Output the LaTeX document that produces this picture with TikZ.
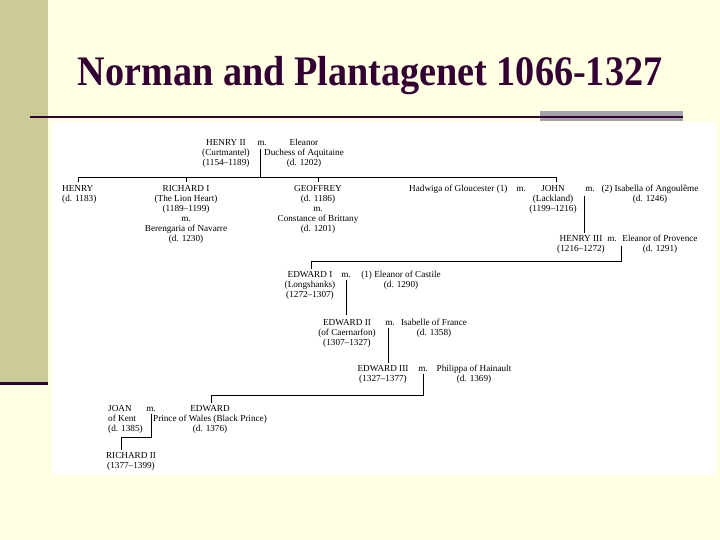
\documentclass[tikz,border=0pt]{standalone}
\usepackage{fontspec}
\setmainfont{Liberation Serif}
\definecolor{bgyel}{HTML}{FFFFE3}
\definecolor{strip}{HTML}{CCCC99}
\definecolor{ttl}{HTML}{330033}
\definecolor{barg}{HTML}{A3A3AB}
\begin{document}
\begin{tikzpicture}[x=1pt,y=-1pt,
  lbl/.style={font=\fontsize{9.2}{10}\selectfont, inner sep=0pt, align=center, anchor=north},
  lbll/.style={lbl, align=left, anchor=north west},
  mar/.style={lbl, execute at begin node=\vphantom{H}},
  tree/.style={line width=0.8pt, black}]
% background
\fill[bgyel] (0,0) rectangle (720,540);
\useasboundingbox (0,0) rectangle (720,540);
\fill[strip] (0,0) rectangle (48,383);
\fill[ttl] (0,381.5) rectangle (48,384.5);
\fill[white] (52,122) rectangle (716,475);
% title
\node[font=\fontsize{38.2}{40}\bfseries, text=ttl, anchor=base, inner sep=0pt] (title) at (370,86) {\scalebox{1}[1.1]{Norman and Plantagenet 1066-1327}};
\fill[barg] (540,111) rectangle (683,121);
\draw[ttl, line width=1.5pt] (30,117) -- (683,117);
% generation 1
\node[lbl] (h2) at (226,139) {HENRY II\\(Curtmantel)\\(1154--1189)};
\node[mar] (m1) at (262,139) {m.};
\node[lbl] (eleanor) at (304,139) {Eleanor\\Duchess of Aquitaine\\(d. 1202)};
% generation 2
\node[lbll] (henry) at (62,185) {HENRY\\(d. 1183)};
\node[lbl] (richard) at (186,185) {RICHARD I\\(The Lion Heart)\\(1189--1199)\\m.\\Berengaria of Navarre\\(d. 1230)};
\node[lbl] (geoffrey) at (318,185) {GEOFFREY\\(d. 1186)\\m.\\Constance of Brittany\\(d. 1201)};
\node[lbll] (hadwiga) at (409,185) {Hadwiga of Gloucester (1)};
\node[mar] (m2) at (521,185) {m.};
\node[lbl] (john) at (553,185) {JOHN\\(Lackland)\\(1199--1216)};
\node[mar] (m3) at (590,185) {m.};
\node[lbl] (isabella) at (650,185) {(2) Isabella of Angoulême\\(d. 1246)};
% generation 3
\node[lbl] (henry3) at (581,235) {HENRY III\\(1216--1272)};
\node[mar] (m4) at (612,235) {m.};
\node[lbl] (eprov) at (660,235) {Eleanor of Provence\\(d. 1291)};
% generation 4
\node[lbl] (edward1) at (310,271) {EDWARD I\\(Longshanks)\\(1272--1307)};
\node[mar] (m5) at (346,271) {m.};
\node[lbl] (ecast) at (401,271) {(1) Eleanor of Castile\\(d. 1290)};
% generation 5
\node[lbl] (edward2) at (347,319) {EDWARD II\\(of Caernarfon)\\(1307--1327)};
\node[mar] (m6) at (390,319) {m.};
\node[lbl] (isafr) at (434,319) {Isabelle of France\\(d. 1358)};
% generation 6
\node[lbl] (edward3) at (383,365) {EDWARD III\\(1327--1377)};
\node[mar] (m7) at (423,365) {m.};
\node[lbl] (phil) at (474,365) {Philippa of Hainault\\(d. 1369)};
% generation 7
\node[lbll] (joan) at (108,405) {JOAN\\of Kent\\(d. 1385)};
\node[mar] (m8) at (151,405) {m.};
\node[lbl] (edwardbp) at (210,405) {EDWARD\\Prince of Wales (Black Prince)\\(d. 1376)};
% generation 8
\node[lbl] (richard2) at (131,452) {RICHARD II\\(1377--1399)};
% connectors
\coordinate (bL) at (78,177);
\coordinate (bR) at (556,177);
\draw[tree] ([yshift=-3pt]m1.south -| 260,0) -- (260,177);
\draw[tree] (bL) -- (bR);
\draw[tree] (bL) -- ++(0,5);
\draw[tree] (richard.north |- bL) -- ++(0,5);
\draw[tree] (geoffrey.north |- bL) -- ++(0,5);
\draw[tree] (bR) -- ++(0,5);
\draw[tree] ([yshift=-4pt]m3.south -| 584,0) -- ([yshift=2pt]henry3.north -| 584,0);
\coordinate (c4) at (621,261);
\coordinate (c5) at (311,261);
\draw[tree] ([yshift=-4pt]m4.south -| c4) -- (c4) -- (c5) -- ([yshift=2pt]edward1.north -| c5);
\draw[tree] ([yshift=-2pt]m5.south) -- ([yshift=4pt]edward2.north -| m5.south);
\draw[tree] ([yshift=-2pt]m6.south -| 388,0) -- ([yshift=2pt]edward3.north -| 388,0);
\coordinate (c7) at (423,395);
\coordinate (c8) at (211,395);
\draw[tree] ([yshift=-2pt]m7.south) -- (c7) -- (c8) -- ([yshift=2pt]edwardbp.north -| c8);
\coordinate (c9) at (151,437);
\coordinate (c10) at (121,437);
\draw[tree] ([yshift=-2pt]m8.south) -- (c9) -- (c10) -- ([yshift=2pt]richard2.north -| c10);
\end{tikzpicture}
\end{document}
